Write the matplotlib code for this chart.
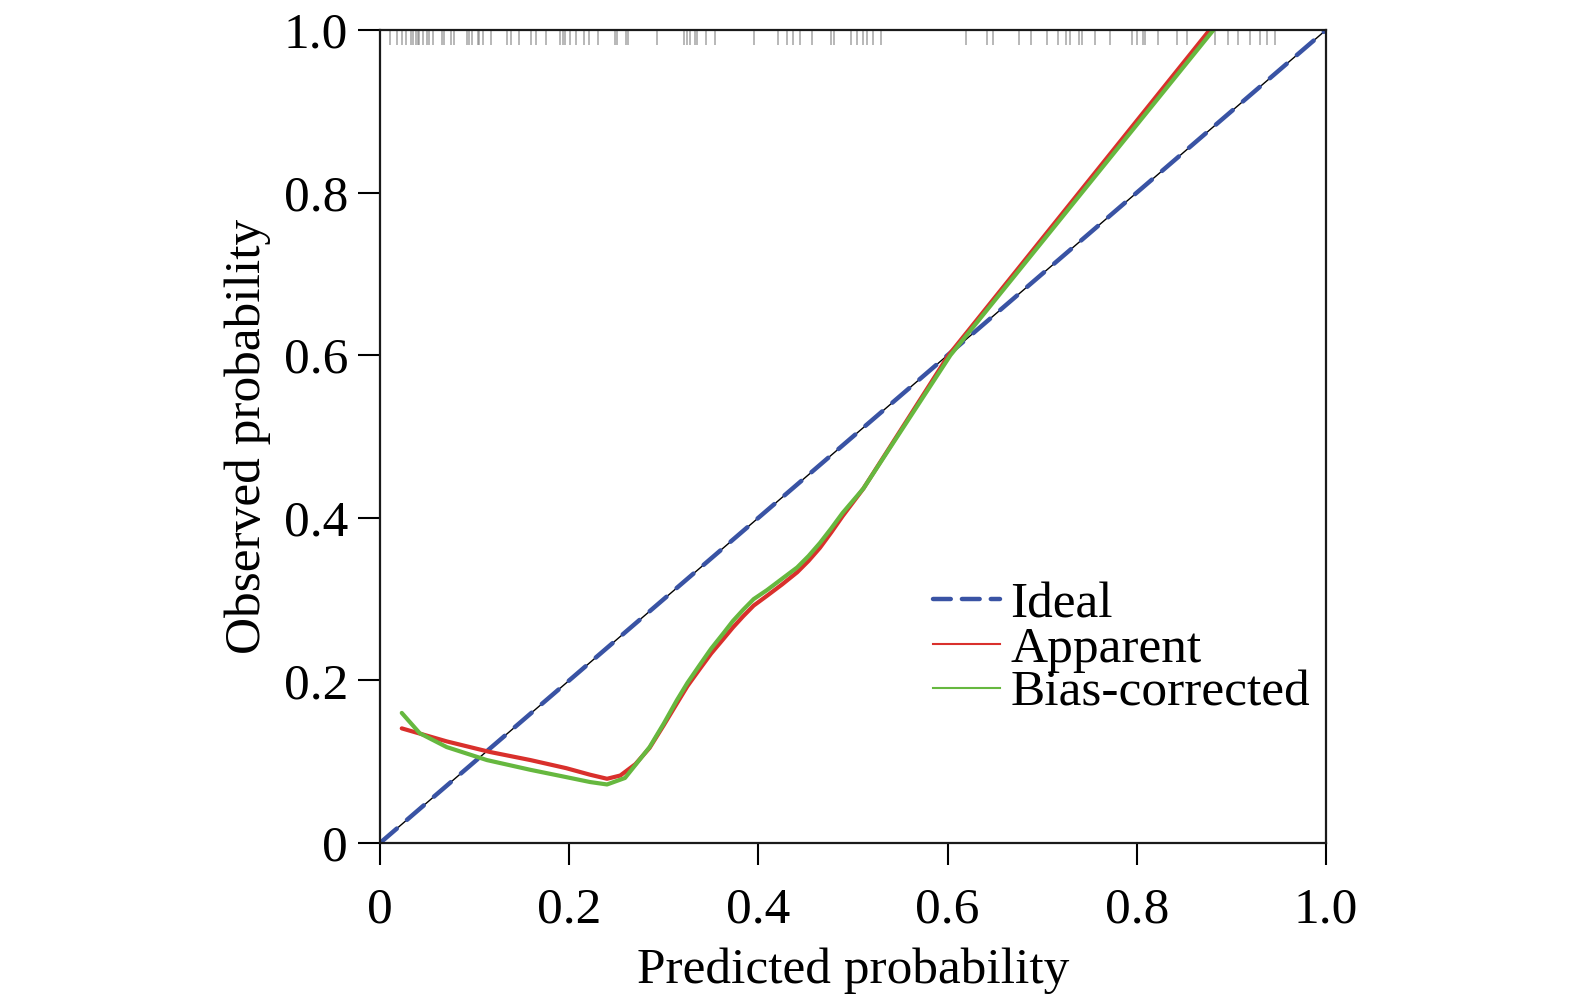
import matplotlib.pyplot as plt
from matplotlib.lines import Line2D

plt.rcParams['font.family'] = ['Liberation Serif', 'DejaVu Serif']

# rug of predicted probabilities along the top axis
rug_x = [0.0106, 0.0183, 0.0229, 0.0275, 0.0324, 0.0352, 0.038, 0.0398, 0.0416,
         0.0458, 0.0493, 0.0521, 0.0557, 0.0652, 0.0677, 0.0747, 0.0782, 0.0916,
         0.0944, 0.0969, 0.1032, 0.105, 0.1085, 0.117, 0.1346, 0.1381, 0.1473,
         0.1593, 0.1649, 0.1755, 0.1903, 0.1931, 0.1956, 0.2008, 0.2072, 0.2156,
         0.2213, 0.2308, 0.2484, 0.2502, 0.26, 0.2625, 0.2925, 0.3214, 0.3249,
         0.3277, 0.333, 0.3347, 0.3446, 0.3541, 0.3953, 0.4211, 0.4299, 0.4369,
         0.444, 0.4563, 0.4764, 0.4799, 0.4975, 0.5039, 0.5109, 0.5144, 0.5215,
         0.5292, 0.6195, 0.642, 0.6483, 0.6758, 0.6882, 0.7047, 0.717, 0.7251,
         0.7294, 0.7392, 0.7417, 0.7558, 0.7717, 0.7946, 0.7999, 0.8062, 0.8087,
         0.8228, 0.8422, 0.8527, 0.8827, 0.8968, 0.9074, 0.9197, 0.9302, 0.9373,
         0.9461]

# apparent calibration curve
app_x = [0.023, 0.0705, 0.116, 0.159, 0.197, 0.222, 0.240, 0.254, 0.270, 0.285,
         0.300, 0.314, 0.325, 0.338, 0.350, 0.363, 0.373, 0.384, 0.395, 0.409,
         0.425, 0.441, 0.453, 0.465, 0.477, 0.489, 0.500, 0.511, 0.601, 0.877]
app_y = [0.141, 0.125, 0.112, 0.102, 0.092, 0.084, 0.079, 0.083, 0.097, 0.117,
         0.145, 0.172, 0.193, 0.214, 0.233, 0.251, 0.265, 0.279, 0.292, 0.304,
         0.318, 0.333, 0.347, 0.363, 0.382, 0.402, 0.419, 0.436, 0.600, 1.0]

# bias-corrected calibration curve
bc_x = [0.023, 0.042, 0.0705, 0.113, 0.159, 0.197, 0.222, 0.240, 0.259, 0.270,
        0.285, 0.300, 0.314, 0.325, 0.338, 0.350, 0.363, 0.373, 0.384, 0.395,
        0.409, 0.425, 0.441, 0.453, 0.465, 0.477, 0.489, 0.500, 0.511, 0.603,
        0.881]
bc_y = [0.160, 0.135, 0.118, 0.102, 0.090, 0.081, 0.075, 0.072, 0.080, 0.096,
        0.118, 0.147, 0.176, 0.197, 0.219, 0.239, 0.258, 0.273, 0.287, 0.300,
        0.311, 0.325, 0.339, 0.353, 0.369, 0.387, 0.406, 0.421, 0.436, 0.600,
        1.0]

ticks = [0, 0.2, 0.4, 0.6, 0.8, 1.0]
tick_labels = ["0", "0.2", "0.4", "0.6", "0.8", "1.0"]

blue = "#3953a4"
red = "#d9302c"
green = "#66b83f"

fig = plt.figure(figsize=(15.75, 10), dpi=100)
ax = fig.add_axes([380 / 1575, 157 / 1000, 946 / 1575, 813 / 1000])

# rug marks
for xv in rug_x:
    ax.plot([xv, xv], [1.0, 0.981], color="#808080", lw=1.3, alpha=0.6,
            solid_capstyle="butt", clip_on=False)

# ideal line: thin black under blue dashes
ax.plot([0, 1], [0, 1], color="black", lw=1.0)
ax.plot([0, 1], [0, 1], color=blue, lw=3.2, dashes=(5, 3),
        dash_capstyle="round")

ax.plot(app_x, app_y, color=red, lw=3.0, solid_capstyle="round",
        solid_joinstyle="round")
ax.plot(bc_x, bc_y, color=green, lw=3.0, solid_capstyle="round",
        solid_joinstyle="round")

ax.set_xlim(0, 1)
ax.set_ylim(0, 1)
ax.set_xticks(ticks)
ax.set_xticklabels(tick_labels)
ax.set_yticks(ticks)
ax.set_yticklabels(tick_labels)
ax.tick_params(direction="out", length=16, width=1.5, labelsize=37)
ax.tick_params(axis="x", pad=16)
ax.tick_params(axis="y", pad=7)
for sp in ax.spines.values():
    sp.set_linewidth(1.6)
    sp.set_color("#1a1a1a")

ax.set_xlabel("Predicted probability", fontsize=37, labelpad=10)
ax.set_ylabel("Observed probability", fontsize=37, labelpad=9)

handles = [
    Line2D([], [], color=blue, lw=3.2, dashes=(4, 2.5), dash_capstyle="round"),
    Line2D([], [], color=red, lw=1.5),
    Line2D([], [], color=green, lw=1.5),
]
ax.legend(handles, ["Ideal", "Apparent", "Bias-corrected"], fontsize=37,
          frameon=False, loc="upper left", bbox_to_anchor=(0.585, 0.322),
          handlelength=1.3, handletextpad=0.2, labelspacing=-0.05,
          borderpad=0, borderaxespad=0)

fig.savefig("out.png", dpi=100)
